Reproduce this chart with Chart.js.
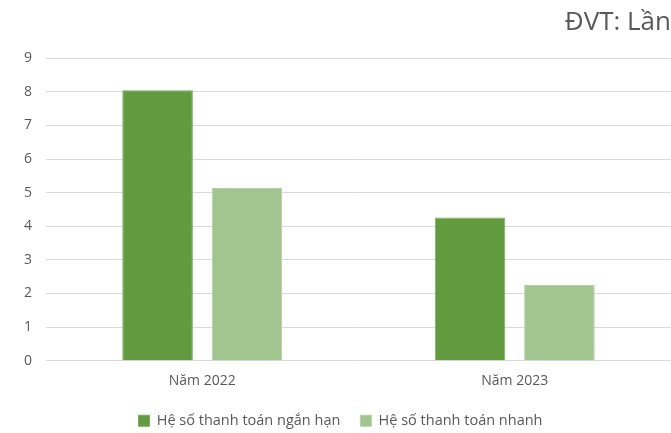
<!DOCTYPE html>
<html>
<head>
<meta charset="utf-8">
<script src="https://cdn.jsdelivr.net/npm/chart.js@4"></script>
<style>
html,body{margin:0;padding:0;background:#fff;overflow:hidden;}
#wrap{position:relative;width:671px;height:433px;}
</style>
</head>
<body>
<div id="wrap"><canvas id="c"></canvas></div>
<script>
const categories = ['Năm 2022', 'Năm 2023'];
const seriesNames = ['Hệ số thanh toán ngắn hạn', 'Hệ số thanh toán nhanh'];
const shortTerm = [8.05, 4.26];
const quick = [5.14, 2.25];
const yTicks = [0, 1, 2, 3, 4, 5, 6, 7, 8, 9];
const unitLabel = 'ĐVT: Lần';

const FONT = "'Open Sans', 'Liberation Sans', sans-serif";
new Chart(document.getElementById('c'), {
  type: 'bar',
  data: {
    labels: categories,
    datasets: [
      {label: seriesNames[0], data: shortTerm, backgroundColor: '#629b3f', borderColor: '#7aab5a', borderWidth: 1,
       categoryPercentage: 0.572, barPercentage: 0.79},
      {label: seriesNames[1], data: quick, backgroundColor: '#a2c58f', borderColor: '#b4d0a4', borderWidth: 1,
       categoryPercentage: 0.572, barPercentage: 0.79}
    ]
  },
  options: {
    responsive: true,
    maintainAspectRatio: false,
    animation: false,
    layout: {padding: {left: 10, right: 0, top: 0, bottom: -5}},
    scales: {
      x: {
        grid: {display: false},
        border: {display: false},
        ticks: {color: '#595959', font: {family: FONT, size: 14}, padding: 4}
      },
      y: {
        min: 0, max: 9,
        afterBuildTicks: (s) => { s.ticks = yTicks.map(v => ({value: v})); },
        grid: {color: '#d9d9d9', lineWidth: 1, drawTicks: false},
        border: {display: false},
        ticks: {color: '#595959', font: {family: FONT, size: 14}, padding: 14}
      }
    },
    plugins: {
      title: {
        display: true, text: unitLabel, align: 'end', color: '#595959',
        font: {family: FONT, size: 26, weight: 'normal'},
        padding: {top: 7, bottom: 20}
      },
      legend: {
        position: 'bottom',
        labels: {color: '#595959', font: {family: FONT, size: 14.5}, boxWidth: 11, boxHeight: 11, padding: 20}
      },
      tooltip: {enabled: false}
    }
  }
});
</script>
</body>
</html>
